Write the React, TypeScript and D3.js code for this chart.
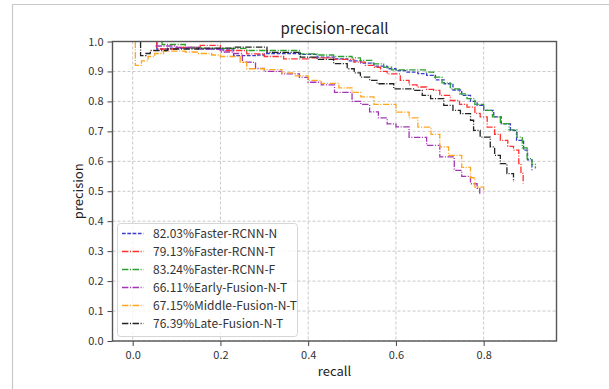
import React, { useRef, useEffect } from "react";
import * as d3 from "d3";

// tick values
const xTicks = [0, 0.2, 0.4, 0.6, 0.8];
const yTicks = [0, 0.1, 0.2, 0.3, 0.4, 0.5, 0.6, 0.7, 0.8, 0.9, 1.0];

// [recall, precision]
const fasterN: [number, number][] = [
  [0.055, 1.0], [0.055, 0.975], [0.08, 0.978], [0.15, 0.975], [0.2, 0.972], [0.23, 0.953],
  [0.285, 0.955], [0.3, 0.96], [0.38, 0.957], [0.42, 0.948], [0.46, 0.942], [0.49, 0.935],
  [0.52, 0.928], [0.55, 0.918], [0.58, 0.909], [0.6, 0.903], [0.625, 0.898], [0.65, 0.893],
  [0.67, 0.887], [0.69, 0.872], [0.71, 0.859], [0.73, 0.838], [0.75, 0.82], [0.77, 0.8],
  [0.785, 0.787], [0.8, 0.77], [0.823, 0.748], [0.84, 0.725], [0.861, 0.703], [0.875, 0.67],
  [0.891, 0.637], [0.9, 0.605], [0.91, 0.57],
];
const fasterT: [number, number][] = [
  [0.055, 1.0], [0.055, 0.975], [0.1, 0.98], [0.154, 0.987], [0.2, 0.97], [0.26, 0.959],
  [0.3, 0.95], [0.344, 0.942], [0.4, 0.945], [0.458, 0.94], [0.504, 0.931], [0.53, 0.92],
  [0.549, 0.914], [0.565, 0.9], [0.58, 0.892], [0.61, 0.87], [0.63, 0.855], [0.648, 0.848],
  [0.67, 0.84], [0.686, 0.837], [0.7, 0.82], [0.724, 0.803], [0.745, 0.79], [0.762, 0.781],
  [0.78, 0.76], [0.792, 0.748], [0.808, 0.714], [0.825, 0.69], [0.838, 0.67], [0.855, 0.65],
  [0.868, 0.637], [0.88, 0.592], [0.885, 0.56], [0.89, 0.526],
];
const fasterF: [number, number][] = [
  [0.067, 1.0], [0.067, 0.99], [0.078, 0.99], [0.12, 0.98], [0.154, 0.977], [0.26, 0.97],
  [0.382, 0.959], [0.42, 0.955], [0.458, 0.95], [0.5, 0.945], [0.519, 0.937], [0.545, 0.925],
  [0.572, 0.914], [0.59, 0.905], [0.667, 0.898], [0.686, 0.881], [0.705, 0.862], [0.724, 0.842],
  [0.745, 0.825], [0.762, 0.809], [0.78, 0.79], [0.8, 0.77], [0.82, 0.748], [0.838, 0.726],
  [0.858, 0.705], [0.876, 0.681], [0.888, 0.645], [0.899, 0.609], [0.91, 0.59], [0.918, 0.576],
];
const earlyNT: [number, number][] = [
  [0.052, 0.985], [0.1, 0.98], [0.15, 0.975], [0.2, 0.965], [0.23, 0.96], [0.25, 0.931],
  [0.27, 0.93], [0.28, 0.91], [0.3, 0.9], [0.34, 0.892], [0.38, 0.88], [0.4, 0.864],
  [0.43, 0.855], [0.46, 0.83], [0.5, 0.8], [0.52, 0.79], [0.54, 0.765], [0.56, 0.745],
  [0.58, 0.725], [0.6, 0.715], [0.63, 0.68], [0.67, 0.653], [0.7, 0.615], [0.733, 0.57],
  [0.75, 0.55], [0.77, 0.525], [0.785, 0.51], [0.791, 0.492],
];
const middleNT: [number, number][] = [
  [0.006, 1.0], [0.006, 0.92], [0.02, 0.935], [0.035, 0.95], [0.05, 0.96], [0.07, 0.968],
  [0.12, 0.965], [0.15, 0.96], [0.18, 0.955], [0.2, 0.95], [0.245, 0.93], [0.26, 0.909],
  [0.3, 0.906], [0.34, 0.895], [0.37, 0.885], [0.4, 0.87], [0.43, 0.86], [0.47, 0.845],
  [0.5, 0.83], [0.52, 0.815], [0.55, 0.79], [0.6, 0.764], [0.63, 0.745], [0.65, 0.714],
  [0.68, 0.69], [0.7, 0.648], [0.72, 0.62], [0.75, 0.58], [0.77, 0.545], [0.78, 0.514],
  [0.8, 0.503],
];
const lateNT: [number, number][] = [
  [0.018, 1.0], [0.018, 0.953], [0.03, 0.96], [0.04, 0.97], [0.08, 0.975], [0.15, 0.978],
  [0.23, 0.981], [0.306, 0.964], [0.382, 0.948], [0.42, 0.94], [0.458, 0.926], [0.489, 0.909],
  [0.505, 0.895], [0.519, 0.881], [0.54, 0.87], [0.557, 0.859], [0.595, 0.842], [0.64, 0.837],
  [0.66, 0.82], [0.679, 0.809], [0.709, 0.787], [0.73, 0.77], [0.747, 0.759], [0.77, 0.737],
  [0.777, 0.703], [0.792, 0.681], [0.815, 0.648], [0.825, 0.62], [0.838, 0.592], [0.853, 0.559],
  [0.868, 0.531],
];

const labels = [
  "82.03%Faster-RCNN-N",
  "79.13%Faster-RCNN-T",
  "83.24%Faster-RCNN-F",
  "66.11%Early-Fusion-N-T",
  "67.15%Middle-Fusion-N-T",
  "76.39%Late-Fusion-N-T",
];

const DASH = "3.7,1.6";
const DASHDOT = "6.4,1.6,1,1.6";
const FONT = "'Noto Sans CJK SC', 'DejaVu Sans', sans-serif";

const App = () => {
  const ref = useRef<SVGSVGElement>(null);

  useEffect(() => {
    const svg = d3.select(ref.current);
    svg.selectAll("*").remove();

    const width = 609;
    const height = 389;
    const left = 112.5, right = 556.5, top = 41.5, bottom = 341;

    svg.append("rect").attr("width", width).attr("height", height).attr("fill", "#fff");
    // outer frame of the screenshot
    svg.append("path")
      .attr("d", `M12.5,${height} V4.5 H${width}`)
      .attr("fill", "none")
      .attr("stroke", "#c8c8c8")
      .attr("stroke-width", 1.2);

    const x = d3.scaleLinear().domain([-0.046, 0.966]).range([left, right]);
    const y = d3.scaleLinear().domain([0, 1]).range([bottom, top]);

    // grid
    const grid = svg.append("g").attr("stroke", "#c8c8c8").attr("stroke-width", 1).attr("stroke-dasharray", "3,2");
    xTicks.forEach((t) => {
      grid.append("line").attr("x1", x(t)).attr("x2", x(t)).attr("y1", top).attr("y2", bottom);
    });
    yTicks.forEach((t) => {
      grid.append("line").attr("x1", left).attr("x2", right).attr("y1", y(t)).attr("y2", y(t));
    });

    const series = [
      { data: fasterN, color: "#3b3bcc", dash: DASH },
      { data: fasterT, color: "#ff3030", dash: DASHDOT },
      { data: fasterF, color: "#2ca02c", dash: DASHDOT },
      { data: earlyNT, color: "#a335b5", dash: DASHDOT },
      { data: middleNT, color: "#ffa520", dash: DASHDOT },
      { data: lateNT, color: "#222222", dash: DASHDOT },
    ];

    const line = d3.line<[number, number]>()
      .x((d) => x(d[0]))
      .y((d) => y(d[1]))
      .curve(d3.curveStepAfter);

    series.forEach((s) => {
      svg.append("path")
        .datum(s.data)
        .attr("fill", "none")
        .attr("stroke", s.color)
        .attr("stroke-width", 1.3)
        .attr("stroke-dasharray", s.dash)
        .attr("d", line);
    });

    // axes
    const xAxis = svg.append("g")
      .attr("transform", `translate(0,${bottom})`)
      .call(d3.axisBottom(x).tickValues(xTicks).tickFormat(d3.format(".1f")).tickSize(5).tickPadding(5));
    const yAxis = svg.append("g")
      .attr("transform", `translate(${left},0)`)
      .call(d3.axisLeft(y).tickValues(yTicks).tickFormat(d3.format(".1f")).tickSize(5).tickPadding(4));
    [xAxis, yAxis].forEach((g) => {
      g.select(".domain").remove();
      g.selectAll("line").attr("stroke", "#444");
      g.selectAll("text").attr("font-family", FONT).attr("font-size", 11).attr("fill", "#333");
    });

    svg.append("rect")
      .attr("x", left).attr("y", top)
      .attr("width", right - left).attr("height", bottom - top)
      .attr("fill", "none").attr("stroke", "#555").attr("stroke-width", 1.4);

    // titles
    svg.append("text")
      .attr("x", (left + right) / 2).attr("y", 34)
      .attr("text-anchor", "middle")
      .attr("font-family", FONT).attr("font-size", 15).attr("fill", "#222")
      .text("precision-recall");
    svg.append("text")
      .attr("x", (left + right) / 2).attr("y", 376)
      .attr("text-anchor", "middle")
      .attr("font-family", FONT).attr("font-size", 13).attr("fill", "#222")
      .text("recall");
    svg.append("text")
      .attr("transform", `translate(83,${(top + bottom) / 2}) rotate(-90)`)
      .attr("text-anchor", "middle")
      .attr("font-family", FONT).attr("font-size", 13).attr("fill", "#222")
      .text("precision");

    // legend
    const legend = svg.append("g");
    legend.append("rect")
      .attr("x", 117.5).attr("y", 223.5)
      .attr("width", 180).attr("height", 113)
      .attr("rx", 3)
      .attr("fill", "#fff").attr("fill-opacity", 0.8)
      .attr("stroke", "#d6d6d6");
    series.forEach((s, i) => {
      const cy = 233.5 + i * 18;
      legend.append("line")
        .attr("x1", 122).attr("x2", 143.5)
        .attr("y1", cy).attr("y2", cy)
        .attr("stroke", s.color).attr("stroke-width", 1.3)
        .attr("stroke-dasharray", s.dash);
      legend.append("text")
        .attr("x", 153).attr("y", cy)
        .attr("dy", "0.35em")
        .attr("font-family", FONT).attr("font-size", 12).attr("fill", "#333")
        .text(labels[i]);
    });
  }, []);

  return (
    <svg ref={ref} width={609} height={389} style={{ position: "absolute", left: 0, top: 0 }} />
  );
};

export default App;
